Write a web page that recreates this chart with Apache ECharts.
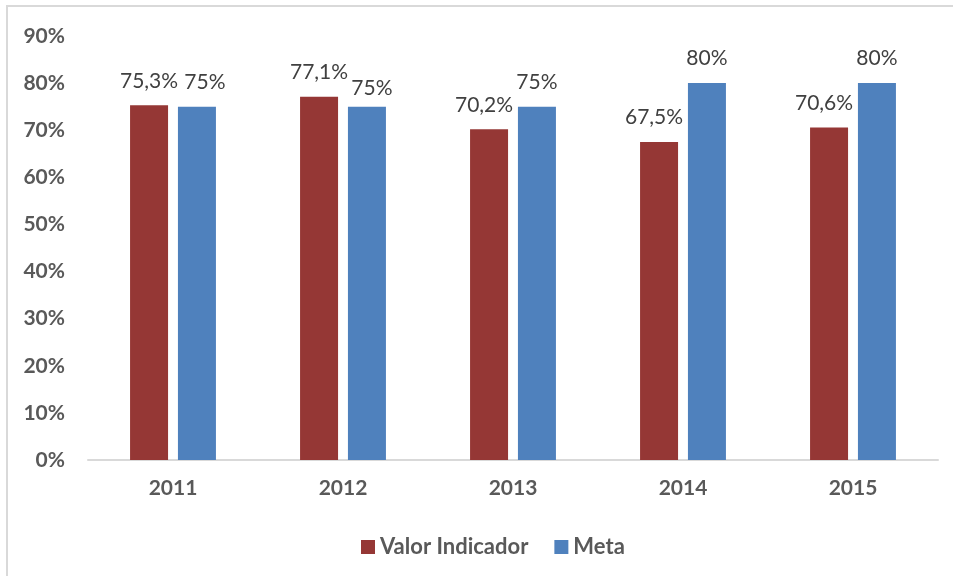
<!DOCTYPE html>
<html>
<head>
<meta charset="utf-8">
<title>Valor Indicador x Meta</title>
<style>
  html, body { margin: 0; padding: 0; background: #fff; }
  #chart { width: 953px; height: 576px; }
</style>
<script src="https://cdn.jsdelivr.net/npm/echarts@6/dist/echarts.min.js"></script>
</head>
<body>
<div id="chart"></div>
<script>
  // dados
  var anos = ['2011', '2012', '2013', '2014', '2015'];
  var valorIndicador = [75.3, 77.1, 70.2, 67.5, 70.6];
  var meta = [75, 75, 75, 80, 80];
  var yTicks = [0, 10, 20, 30, 40, 50, 60, 70, 80, 90];

  // pequenos ajustes na posicao dos rotulos (como no Excel)
  var ajusteValor = [[0, 0], [0, 0], [-5, 0], [-5, 0], [-5, 0]];
  var ajusteMeta = [[8, 0], [5, 6], [0, 0], [0, 0], [0, 0]];

  function rotulo(v) {
    if (Number.isInteger(v)) return v + '%';
    return v.toFixed(1).replace('.', ',') + '%';
  }

  function comAjuste(vals, ajustes) {
    return vals.map(function (v, i) {
      return { value: v, label: { offset: ajustes[i] } };
    });
  }

  var fonte = 'Lato, "Open Sans", sans-serif';
  var chart = echarts.init(document.getElementById('chart'));

  var option = {
    backgroundColor: '#fff',
    animation: false,
    textStyle: { fontFamily: fonte },
    graphic: [{
      type: 'rect',
      shape: { x: 7, y: 6, width: 1200, height: 1200 },
      style: { fill: 'none', stroke: '#d9d9d9', lineWidth: 2 },
      silent: true
    }],
    grid: { left: 88, right: 15, top: 36, bottom: 116 },
    legend: {
      data: ['Valor Indicador', 'Meta'],
      left: 356,
      top: 531,
      icon: 'rect',
      itemWidth: 14,
      itemHeight: 14,
      itemGap: 26,
      textStyle: { fontFamily: fonte, fontSize: 22, fontWeight: 'bold', color: '#595959' }
    },
    xAxis: {
      type: 'category',
      data: anos,
      axisLine: { lineStyle: { color: '#d9d9d9', width: 2 } },
      axisTick: { show: false },
      axisLabel: { margin: 18, fontFamily: fonte, fontSize: 21, fontWeight: 'bold', color: '#595959' }
    },
    yAxis: {
      type: 'value',
      min: yTicks[0],
      max: yTicks[yTicks.length - 1],
      interval: 10,
      splitLine: { show: false },
      axisLine: { show: false },
      axisTick: { show: false },
      axisLabel: {
        margin: 23,
        formatter: '{value}%',
        fontFamily: fonte, fontSize: 21, fontWeight: 'bold', color: '#595959'
      }
    },
    series: [
      {
        name: 'Valor Indicador',
        type: 'bar',
        data: comAjuste(valorIndicador, ajusteValor),
        barWidth: 38,
        barGap: '26%',
        itemStyle: { color: '#953735' },
        label: {
          show: true, position: 'top', distance: 14,
          formatter: function (p) { return rotulo(p.value); },
          fontFamily: fonte, fontSize: 21, color: '#404040'
        }
      },
      {
        name: 'Meta',
        type: 'bar',
        data: comAjuste(meta, ajusteMeta),
        barWidth: 38,
        itemStyle: { color: '#4f81bd' },
        label: {
          show: true, position: 'top', distance: 14,
          formatter: function (p) { return rotulo(p.value); },
          fontFamily: fonte, fontSize: 21, color: '#404040'
        }
      }
    ]
  };

  chart.setOption(option);
</script>
</body>
</html>
